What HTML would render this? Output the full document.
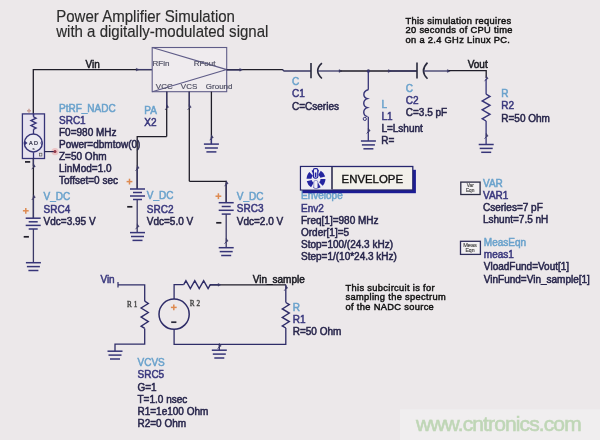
<!DOCTYPE html>
<html><head><meta charset="utf-8"><style>
html,body{margin:0;padding:0;background:#ece8ea;}
svg{display:block;font-family:"Liberation Sans",sans-serif;filter:blur(0.3px);}
</style></head><body>
<svg width="600" height="440" viewBox="0 0 600 440">
<rect x="0" y="0" width="600" height="440" fill="#ece8ea"/>
<rect x="400" y="409.3" width="200" height="30.7" fill="#f0eeef"/>
<g transform="translate(56.2,22.4) scale(0.94,1)">
<text x="0" y="0" fill="#2c2c2c" stroke="#2c2c2c" stroke-width="0.15" font-size="16" >Power Amplifier Simulation</text>
<text x="0" y="14.6" fill="#2c2c2c" stroke="#2c2c2c" stroke-width="0.15" font-size="16" >with a digitally-modulated signal</text>
</g>
<text x="405.5" y="23.5" fill="#111111" stroke="#111111" stroke-width="0.45" font-size="9.3" letter-spacing="0.32">This simulation requires</text>
<text x="405.5" y="33.25" fill="#111111" stroke="#111111" stroke-width="0.45" font-size="9.3" letter-spacing="0.32">20 seconds of CPU time</text>
<text x="405.5" y="43.0" fill="#111111" stroke="#111111" stroke-width="0.45" font-size="9.3" letter-spacing="0.32">on a 2.4 GHz Linux PC.</text>
<polyline points="33.30,113.90 33.30,69.60 152.20,69.60" fill="none" stroke="#1f1d28" stroke-width="1.3" stroke-linejoin="miter"/>
<text x="85.5" y="68" fill="#1a1a22" stroke="#1a1a22" stroke-width="0.5" font-size="10" >Vin</text>
<path d="M136.2,68.19999999999999 L139.0,69.6 L136.2,71.0 Z" fill="#3a3866" stroke="#3a3866" stroke-width="0.4"/>
<line x1="137.5" y1="69.6" x2="152.2" y2="69.6" stroke="#3a3866" stroke-width="1.3"/>
<rect x="152.2" y="47.5" width="74.5" height="44.2" fill="#efebee" stroke="#5f5c88" stroke-width="1.1"/>
<polyline points="152.20,47.50 226.70,69.60 152.20,91.70" fill="none" stroke="#5f5c88" stroke-width="1.1" stroke-linejoin="miter"/>
<text x="152.5" y="66.3" fill="#525266" stroke="#525266" stroke-width="0.2" font-size="8" >RFin</text>
<text x="193.7" y="66.3" fill="#525266" stroke="#525266" stroke-width="0.2" font-size="8" >RFout</text>
<text x="155.8" y="88.7" fill="#525266" stroke="#525266" stroke-width="0.2" font-size="8" >VCC</text>
<text x="180.8" y="88.7" fill="#525266" stroke="#525266" stroke-width="0.2" font-size="8" >VCS</text>
<text x="205.8" y="88.7" fill="#525266" stroke="#525266" stroke-width="0.2" font-size="8" >Ground</text>
<line x1="166.7" y1="91.7" x2="166.7" y2="136.6" stroke="#1f1d28" stroke-width="1.3"/>
<line x1="189.3" y1="91.7" x2="189.3" y2="181.3" stroke="#1f1d28" stroke-width="1.3"/>
<line x1="211.4" y1="91.7" x2="211.4" y2="144.1" stroke="#1f1d28" stroke-width="1.3"/>
<line x1="166.7" y1="91.7" x2="166.7" y2="106.7" stroke="#3a3866" stroke-width="1.3"/>
<line x1="189.3" y1="91.7" x2="189.3" y2="106.7" stroke="#3a3866" stroke-width="1.3"/>
<path d="M166.7,104.5 L168.6,107.3 L166.7,108.10000000000001 Z" fill="#3a3866" stroke="#3a3866" stroke-width="0.5"/>
<path d="M166.89999999999998,107.7 L165.1,109.9" stroke="#3a3866" stroke-width="0.9"/>
<path d="M189.3,104.5 L191.20000000000002,107.3 L189.3,108.10000000000001 Z" fill="#3a3866" stroke="#3a3866" stroke-width="0.5"/>
<path d="M189.5,107.7 L187.70000000000002,109.9" stroke="#3a3866" stroke-width="0.9"/>
<line x1="211.4" y1="137" x2="211.4" y2="144.1" stroke="#363478" stroke-width="1.3"/>
<path d="M211.4,134.8 L213.3,137.6 L211.4,138.4 Z" fill="#3a3866" stroke="#3a3866" stroke-width="0.5"/>
<path d="M211.6,138 L209.8,140.2" stroke="#3a3866" stroke-width="0.9"/>
<line x1="203.9" y1="144.1" x2="218.9" y2="144.1" stroke="#363478" stroke-width="1.5"/>
<line x1="204.9" y1="148.0" x2="217.9" y2="148.0" stroke="#363478" stroke-width="1.5"/>
<line x1="206.4" y1="151.9" x2="216.4" y2="151.9" stroke="#363478" stroke-width="1.5"/>
<text x="144.3" y="114.3" fill="#6aa2cc" stroke="#6aa2cc" stroke-width="0.5" font-size="10" >PA</text>
<text x="144.3" y="126.2" fill="#3a387e" stroke="#3a387e" stroke-width="0.5" font-size="10" >X2</text>
<polyline points="166.70,136.60 137.20,136.60 137.20,189.00" fill="none" stroke="#1f1d28" stroke-width="1.3" stroke-linejoin="miter"/>
<polyline points="189.30,181.30 226.20,181.30 226.20,202.70" fill="none" stroke="#1f1d28" stroke-width="1.3" stroke-linejoin="miter"/>
<line x1="226.7" y1="69.6" x2="283" y2="69.6" stroke="#1f1d28" stroke-width="1.3"/>
<line x1="226.7" y1="70" x2="241" y2="70" stroke="#3a3866" stroke-width="1.3"/>
<path d="M239.7,68.39999999999999 L242.5,69.8 L239.7,71.2 Z" fill="#3a3866" stroke="#3a3866" stroke-width="0.4"/>
<polyline points="282.50,69.60 284.00,71.00 311.00,71.00" fill="none" stroke="#3a3866" stroke-width="1.3" stroke-linejoin="miter"/>
<line x1="311" y1="63" x2="311" y2="78.2" stroke="#28283c" stroke-width="1.6"/>
<path d="M321.9,63.1 Q313.5,70.8 321.9,78.5" fill="none" stroke="#28283c" stroke-width="1.6"/>
<line x1="317.5" y1="71" x2="340" y2="71" stroke="#3a3866" stroke-width="1.3"/>
<path d="M339.0,69.6 L341.8,71 L339.0,72.4 Z" fill="#3a3866" stroke="#3a3866" stroke-width="0.4"/>
<line x1="340.3" y1="71" x2="417" y2="71" stroke="#1f1d28" stroke-width="1.3"/>
<path d="M388.3,69.6 L391.1,71 L388.3,72.4 Z" fill="#3a3866" stroke="#3a3866" stroke-width="0.4"/>
<line x1="389.6" y1="71" x2="417" y2="71" stroke="#3a3866" stroke-width="1.3"/>
<circle cx="368.4" cy="71" r="1.7" fill="#3a3866"/>
<line x1="417" y1="62.5" x2="417" y2="78.5" stroke="#28283c" stroke-width="1.6"/>
<path d="M427.5,62.6 Q419.5,70.8 427.5,78.8" fill="none" stroke="#28283c" stroke-width="1.6"/>
<line x1="423.5" y1="71" x2="448.7" y2="71" stroke="#3a3866" stroke-width="1.3"/>
<path d="M447.4,69.6 L450.2,71 L447.4,72.4 Z" fill="#3a3866" stroke="#3a3866" stroke-width="0.4"/>
<polyline points="448.70,70.60 486.20,70.60 486.20,78.00" fill="none" stroke="#1f1d28" stroke-width="1.3" stroke-linejoin="miter"/>
<path d="M486.2,75.8 L488.09999999999997,78.6 L486.2,79.4 Z" fill="#3a3866" stroke="#3a3866" stroke-width="0.5"/>
<path d="M486.4,79 L484.59999999999997,81.2" stroke="#3a3866" stroke-width="0.9"/>
<line x1="486.1" y1="79" x2="486.1" y2="94.2" stroke="#363478" stroke-width="1.3"/>
<polyline points="486.10,94.20 490.00,96.43 482.20,100.90 490.00,105.37 482.20,109.83 490.00,114.30 482.20,118.77 486.10,121.00" fill="none" stroke="#363478" stroke-width="1.4" stroke-linejoin="miter"/>
<line x1="486.1" y1="121" x2="486.1" y2="144.5" stroke="#363478" stroke-width="1.3"/>
<path d="M486.2,133.3 L488.09999999999997,136.1 L486.2,136.9 Z" fill="#3a3866" stroke="#3a3866" stroke-width="0.5"/>
<path d="M486.4,136.5 L484.59999999999997,138.7" stroke="#3a3866" stroke-width="0.9"/>
<line x1="478.7" y1="144.5" x2="493.7" y2="144.5" stroke="#363478" stroke-width="1.5"/>
<line x1="479.7" y1="148.4" x2="492.7" y2="148.4" stroke="#363478" stroke-width="1.5"/>
<line x1="481.2" y1="152.3" x2="491.2" y2="152.3" stroke="#363478" stroke-width="1.5"/>
<text x="467.7" y="68" fill="#1a1a22" stroke="#1a1a22" stroke-width="0.5" font-size="10" >Vout</text>
<text x="292" y="84.7" fill="#6aa2cc" stroke="#6aa2cc" stroke-width="0.5" font-size="10" >C</text>
<text x="292" y="97.2" fill="#3a387e" stroke="#3a387e" stroke-width="0.5" font-size="10" >C1</text>
<text x="292" y="109.6" fill="#28264c" stroke="#28264c" stroke-width="0.5" font-size="10" >C=Cseries</text>
<line x1="368.3" y1="71" x2="368.3" y2="89.7" stroke="#363478" stroke-width="1.3"/>
<path d="M368.3,89.7 C362.5,91.2 362.5,97.2 367.5,98.7 C362.5,100.2 362.5,106.2 367.5,107.7 C362.5,109.2 362.5,115.2 367.5,116.7 " fill="none" stroke="#363478" stroke-width="1.4"/>
<circle cx="364.8" cy="118.9" r="1.6" fill="none" stroke="#363478" stroke-width="1"/>
<line x1="368.3" y1="116.7" x2="368.3" y2="141" stroke="#363478" stroke-width="1.3"/>
<path d="M368.3,128.10000000000002 L370.2,130.9 L368.3,131.70000000000002 Z" fill="#3a3866" stroke="#3a3866" stroke-width="0.5"/>
<path d="M368.5,131.3 L366.7,133.5" stroke="#3a3866" stroke-width="0.9"/>
<line x1="360.9" y1="141" x2="375.9" y2="141" stroke="#363478" stroke-width="1.5"/>
<line x1="361.9" y1="144.9" x2="374.9" y2="144.9" stroke="#363478" stroke-width="1.5"/>
<line x1="363.4" y1="148.8" x2="373.4" y2="148.8" stroke="#363478" stroke-width="1.5"/>
<text x="381.4" y="108" fill="#6aa2cc" stroke="#6aa2cc" stroke-width="0.5" font-size="10" >L</text>
<text x="381.4" y="119.8" fill="#3a387e" stroke="#3a387e" stroke-width="0.5" font-size="10" >L1</text>
<text x="381.4" y="132" fill="#28264c" stroke="#28264c" stroke-width="0.5" font-size="10" >L=Lshunt</text>
<text x="381.2" y="143.6" fill="#28264c" stroke="#28264c" stroke-width="0.5" font-size="10" >R=</text>
<text x="405.8" y="91.6" fill="#6aa2cc" stroke="#6aa2cc" stroke-width="0.5" font-size="10" >C</text>
<text x="405.8" y="103.7" fill="#3a387e" stroke="#3a387e" stroke-width="0.5" font-size="10" >C2</text>
<text x="405.8" y="116" fill="#28264c" stroke="#28264c" stroke-width="0.5" font-size="10" >C=3.5 pF</text>
<text x="501.3" y="97.2" fill="#6aa2cc" stroke="#6aa2cc" stroke-width="0.5" font-size="10" >R</text>
<text x="501.3" y="109.2" fill="#3a387e" stroke="#3a387e" stroke-width="0.5" font-size="10" >R2</text>
<text x="501.3" y="121.5" fill="#28264c" stroke="#28264c" stroke-width="0.5" font-size="10" >R=50 Ohm</text>
<rect x="22.4" y="113.9" width="22.1" height="44.6" fill="#e7e3ef" stroke="#363478" stroke-width="1.3"/>
<line x1="33.5" y1="113.9" x2="33.5" y2="116" stroke="#363478" stroke-width="1.3"/>
<line x1="33.5" y1="113.9" x2="33.5" y2="116.9" stroke="#363478" stroke-width="1.3"/>
<polyline points="33.50,116.90 36.00,118.14 31.00,120.62 36.00,123.10 31.00,125.58 36.00,128.06 33.50,129.30" fill="none" stroke="#363478" stroke-width="1.4" stroke-linejoin="miter"/>
<line x1="33.5" y1="129.3" x2="33.5" y2="134" stroke="#363478" stroke-width="1.3"/>
<circle cx="33.3" cy="143" r="9" fill="#ecebf2" stroke="#363478" stroke-width="1.4"/>
<text x="33.5" y="145.2" fill="#2a2a40" stroke="#2a2a40" stroke-width="0.2" font-size="5.5" text-anchor="middle">A D</text>
<text x="33.5" y="150" fill="#2a2a40" stroke="#2a2a40" stroke-width="0.1" font-size="4" text-anchor="middle">s</text>
<path d="M25,141 L27.5,143 L25,145 Z" fill="#363478"/>
<path d="M42,141 Q39.5,143 42,145" fill="none" stroke="#363478" stroke-width="0.8"/>
<line x1="33.5" y1="152.3" x2="33.5" y2="158.5" stroke="#363478" stroke-width="1.3"/>
<circle cx="55" cy="151.6" r="3.6" fill="#ecc4c6"/>
<line x1="44.5" y1="151.6" x2="55" y2="151.6" stroke="#2a2850" stroke-width="1.2"/>
<circle cx="55" cy="151.6" r="1.5" fill="#903848"/>
<rect x="39.5" y="153.2" width="2.4" height="2.8" fill="none" stroke="#555" stroke-width="0.7"/>
<line x1="27" y1="110.8" x2="31" y2="110.8" stroke="#c8a098" stroke-width="1.5"/>
<line x1="29" y1="108.8" x2="29" y2="112.8" stroke="#c8a098" stroke-width="1.5"/>
<line x1="25.0" y1="161.9" x2="30.200000000000003" y2="161.9" stroke="#1f1d28" stroke-width="1.7"/>
<line x1="33.4" y1="158.5" x2="33.4" y2="218.2" stroke="#1f1d28" stroke-width="1.3"/>
<line x1="33.4" y1="158.5" x2="33.4" y2="166" stroke="#3a3866" stroke-width="1.3"/>
<path d="M33.4,163.8 L35.3,166.6 L33.4,167.4 Z" fill="#3a3866" stroke="#3a3866" stroke-width="0.5"/>
<path d="M33.6,167 L31.799999999999997,169.2" stroke="#3a3866" stroke-width="0.9"/>
<path d="M33.4,194.60000000000002 L35.3,197.4 L33.4,198.20000000000002 Z" fill="#3a3866" stroke="#3a3866" stroke-width="0.5"/>
<path d="M33.6,197.8 L31.799999999999997,200.0" stroke="#3a3866" stroke-width="0.9"/>
<line x1="33.4" y1="196.8" x2="33.4" y2="218.2" stroke="#3a3866" stroke-width="1.3"/>
<text x="59" y="111.6" fill="#6aa2cc" stroke="#6aa2cc" stroke-width="0.5" font-size="10" >PtRF_NADC</text>
<text x="59" y="123.6" fill="#3a387e" stroke="#3a387e" stroke-width="0.5" font-size="10" >SRC1</text>
<text x="59" y="135.7" fill="#28264c" stroke="#28264c" stroke-width="0.5" font-size="10" >F0=980 MHz</text>
<text x="59" y="147.79999999999998" fill="#28264c" stroke="#28264c" stroke-width="0.5" font-size="10" >Power=dbmtow(0)</text>
<text x="59" y="159.89999999999998" fill="#28264c" stroke="#28264c" stroke-width="0.5" font-size="10" >Z=50 Ohm</text>
<text x="59" y="172.0" fill="#28264c" stroke="#28264c" stroke-width="0.5" font-size="10" >LinMod=1.0</text>
<text x="59" y="184.1" fill="#28264c" stroke="#28264c" stroke-width="0.5" font-size="10" >Toffset=0 sec</text>
<line x1="22.900000000000002" y1="210.8" x2="28.7" y2="210.8" stroke="#de8a50" stroke-width="1.5"/>
<line x1="25.8" y1="207.9" x2="25.8" y2="213.70000000000002" stroke="#de8a50" stroke-width="1.5"/>
<line x1="25.700000000000003" y1="218.2" x2="40.7" y2="218.2" stroke="#363478" stroke-width="1.5"/>
<line x1="28.700000000000003" y1="221.79999999999998" x2="37.7" y2="221.79999999999998" stroke="#363478" stroke-width="1.5"/>
<line x1="25.700000000000003" y1="225.39999999999998" x2="40.7" y2="225.39999999999998" stroke="#363478" stroke-width="1.5"/>
<line x1="28.700000000000003" y1="229.0" x2="37.7" y2="229.0" stroke="#363478" stroke-width="1.5"/>
<line x1="33.4" y1="229" x2="33.4" y2="262.7" stroke="#3a3866" stroke-width="1.3"/>
<line x1="23.7" y1="236.8" x2="28.900000000000002" y2="236.8" stroke="#1f1d28" stroke-width="1.7"/>
<line x1="25.9" y1="262.7" x2="40.9" y2="262.7" stroke="#363478" stroke-width="1.5"/>
<line x1="26.9" y1="266.59999999999997" x2="39.9" y2="266.59999999999997" stroke="#363478" stroke-width="1.5"/>
<line x1="28.4" y1="270.5" x2="38.4" y2="270.5" stroke="#363478" stroke-width="1.5"/>
<text x="43.6" y="200" fill="#6aa2cc" stroke="#6aa2cc" stroke-width="0.5" font-size="10" >V_DC</text>
<text x="43.6" y="212.5" fill="#3a387e" stroke="#3a387e" stroke-width="0.5" font-size="10" >SRC4</text>
<text x="43.6" y="225" fill="#28264c" stroke="#28264c" stroke-width="0.5" font-size="10" >Vdc=3.95 V</text>
<path d="M137.2,165.3 L139.1,168.1 L137.2,168.9 Z" fill="#3a3866" stroke="#3a3866" stroke-width="0.5"/>
<path d="M137.39999999999998,168.5 L135.6,170.7" stroke="#3a3866" stroke-width="0.9"/>
<line x1="137.2" y1="167.5" x2="137.2" y2="189" stroke="#3a3866" stroke-width="1.3"/>
<line x1="126.6" y1="181.6" x2="132.4" y2="181.6" stroke="#de8a50" stroke-width="1.5"/>
<line x1="129.5" y1="178.7" x2="129.5" y2="184.5" stroke="#de8a50" stroke-width="1.5"/>
<line x1="130.0" y1="189" x2="145.0" y2="189" stroke="#363478" stroke-width="1.5"/>
<line x1="133.0" y1="192.5" x2="142.0" y2="192.5" stroke="#363478" stroke-width="1.5"/>
<line x1="130.0" y1="196.0" x2="145.0" y2="196.0" stroke="#363478" stroke-width="1.5"/>
<line x1="133.0" y1="199.5" x2="142.0" y2="199.5" stroke="#363478" stroke-width="1.5"/>
<line x1="137.2" y1="199.5" x2="137.2" y2="232.6" stroke="#3a3866" stroke-width="1.3"/>
<line x1="127.20000000000002" y1="206.8" x2="132.4" y2="206.8" stroke="#1f1d28" stroke-width="1.7"/>
<path d="M137.2,223.8 L139.1,226.6 L137.2,227.4 Z" fill="#3a3866" stroke="#3a3866" stroke-width="0.5"/>
<path d="M137.39999999999998,227 L135.6,229.2" stroke="#3a3866" stroke-width="0.9"/>
<line x1="130.0" y1="232.6" x2="145.0" y2="232.6" stroke="#363478" stroke-width="1.5"/>
<line x1="131.0" y1="236.5" x2="144.0" y2="236.5" stroke="#363478" stroke-width="1.5"/>
<line x1="132.5" y1="240.4" x2="142.5" y2="240.4" stroke="#363478" stroke-width="1.5"/>
<text x="146.8" y="199.4" fill="#6aa2cc" stroke="#6aa2cc" stroke-width="0.5" font-size="10" >V_DC</text>
<text x="146.8" y="212.5" fill="#3a387e" stroke="#3a387e" stroke-width="0.5" font-size="10" >SRC2</text>
<text x="146.8" y="224.5" fill="#28264c" stroke="#28264c" stroke-width="0.5" font-size="10" >Vdc=5.0 V</text>
<path d="M226.2,180.8 L228.1,183.6 L226.2,184.4 Z" fill="#3a3866" stroke="#3a3866" stroke-width="0.5"/>
<path d="M226.39999999999998,184 L224.6,186.2" stroke="#3a3866" stroke-width="0.9"/>
<line x1="226.2" y1="183" x2="226.2" y2="202.7" stroke="#3a3866" stroke-width="1.3"/>
<line x1="215.5" y1="196.2" x2="221.3" y2="196.2" stroke="#de8a50" stroke-width="1.5"/>
<line x1="218.4" y1="193.29999999999998" x2="218.4" y2="199.1" stroke="#de8a50" stroke-width="1.5"/>
<line x1="218.7" y1="202.7" x2="233.7" y2="202.7" stroke="#363478" stroke-width="1.5"/>
<line x1="221.7" y1="206.5" x2="230.7" y2="206.5" stroke="#363478" stroke-width="1.5"/>
<line x1="218.7" y1="210.29999999999998" x2="233.7" y2="210.29999999999998" stroke="#363478" stroke-width="1.5"/>
<line x1="221.7" y1="214.1" x2="230.7" y2="214.1" stroke="#363478" stroke-width="1.5"/>
<line x1="226.2" y1="214" x2="226.2" y2="247.7" stroke="#3a3866" stroke-width="1.3"/>
<line x1="216.20000000000002" y1="222.8" x2="221.4" y2="222.8" stroke="#1f1d28" stroke-width="1.7"/>
<path d="M226.2,238.3 L228.1,241.1 L226.2,241.9 Z" fill="#3a3866" stroke="#3a3866" stroke-width="0.5"/>
<path d="M226.39999999999998,241.5 L224.6,243.7" stroke="#3a3866" stroke-width="0.9"/>
<line x1="218.7" y1="247.7" x2="233.7" y2="247.7" stroke="#363478" stroke-width="1.5"/>
<line x1="219.7" y1="251.6" x2="232.7" y2="251.6" stroke="#363478" stroke-width="1.5"/>
<line x1="221.2" y1="255.5" x2="231.2" y2="255.5" stroke="#363478" stroke-width="1.5"/>
<text x="236.8" y="199.7" fill="#6aa2cc" stroke="#6aa2cc" stroke-width="0.5" font-size="10" >V_DC</text>
<text x="236.8" y="212" fill="#3a387e" stroke="#3a387e" stroke-width="0.5" font-size="10" >SRC3</text>
<text x="236.8" y="225.2" fill="#28264c" stroke="#28264c" stroke-width="0.5" font-size="10" >Vdc=2.0 V</text>
<text x="301" y="199.2" fill="#6aa2cc" stroke="#6aa2cc" stroke-width="0.5" font-size="10" >Envelope</text>
<rect x="302.5" y="169.8" width="113.4" height="23.4" fill="#1c1c94"/>
<rect x="300.5" y="166.5" width="112.3" height="23.5" fill="#f2f0ea" stroke="#26266e" stroke-width="1.3"/>
<rect x="301.3" y="167.3" width="30.5" height="22" fill="#efedf3"/>
<line x1="332" y1="167" x2="332" y2="189.5" stroke="#3a3a5a" stroke-width="1.7"/>
<text x="341.6" y="182.8" fill="#111111" stroke="#111111" stroke-width="0.35" font-size="11.4" >ENVELOPE</text>
<g>
<circle cx="316" cy="179" r="7" fill="none" stroke="#2424a0" stroke-width="5" stroke-dasharray="5.5 1.83" transform="rotate(-60 316 179)"/>
<rect x="313.4" y="168.6" width="4.4" height="9.5" rx="1.5" fill="#f0eef6" stroke="#2424a0" stroke-width="1.2"/>
<rect x="314.8" y="172.5" width="1.6" height="4.5" fill="#2424a0"/>
<rect x="313.8" y="180.5" width="4" height="8" rx="1.5" fill="#f0eef6" stroke="#5a5ab0" stroke-width="0.6"/>
</g>
<text x="301" y="211.5" fill="#3a387e" stroke="#3a387e" stroke-width="0.5" font-size="10" >Env2</text>
<text x="301" y="223.7" fill="#28264c" stroke="#28264c" stroke-width="0.5" font-size="10" >Freq[1]=980 MHz</text>
<text x="301" y="235.9" fill="#28264c" stroke="#28264c" stroke-width="0.5" font-size="10" >Order[1]=5</text>
<text x="301" y="248.1" fill="#28264c" stroke="#28264c" stroke-width="0.5" font-size="10" >Stop=100/(24.3 kHz)</text>
<text x="301" y="260.3" fill="#28264c" stroke="#28264c" stroke-width="0.5" font-size="10" >Step=1/(10*24.3 kHz)</text>
<rect x="460.8" y="182.1" width="19.3" height="12.4" fill="#f3f1f3" stroke="#2a2a44" stroke-width="1.3"/>
<text x="470.2" y="187.3" fill="#444" stroke="#444" stroke-width="0.15" font-size="4.8" text-anchor="middle">Var</text>
<text x="470.2" y="192.3" fill="#444" stroke="#444" stroke-width="0.15" font-size="4.8" text-anchor="middle">Eqn</text>
<text x="483" y="186.9" fill="#6aa2cc" stroke="#6aa2cc" stroke-width="0.5" font-size="10" >VAR</text>
<text x="483" y="198.6" fill="#3a387e" stroke="#3a387e" stroke-width="0.5" font-size="10" >VAR1</text>
<text x="483" y="211.2" fill="#28264c" stroke="#28264c" stroke-width="0.5" font-size="10" >Cseries=7 pF</text>
<text x="483" y="223" fill="#28264c" stroke="#28264c" stroke-width="0.5" font-size="10" >Lshunt=7.5 nH</text>
<rect x="460.5" y="241.3" width="19.9" height="13.1" fill="#f3f1f3" stroke="#2e2c5a" stroke-width="1.3"/>
<text x="470" y="247.2" fill="#444" stroke="#444" stroke-width="0.15" font-size="5.6" text-anchor="middle">Meas</text>
<text x="470" y="252.2" fill="#444" stroke="#444" stroke-width="0.15" font-size="5.2" text-anchor="middle">Eqn</text>
<text x="483.8" y="245.5" fill="#6aa2cc" stroke="#6aa2cc" stroke-width="0.5" font-size="10" >MeasEqn</text>
<text x="483.8" y="257.5" fill="#3a387e" stroke="#3a387e" stroke-width="0.5" font-size="10" >meas1</text>
<text x="483.8" y="270" fill="#28264c" stroke="#28264c" stroke-width="0.5" font-size="10" >VloadFund=Vout[1]</text>
<text x="483.8" y="282.5" fill="#28264c" stroke="#28264c" stroke-width="0.5" font-size="10" >VinFund=Vin_sample[1]</text>
<text x="100.4" y="283" fill="#3a387e" stroke="#3a387e" stroke-width="0.5" font-size="10" >Vin</text>
<polyline points="118.00,284.80 144.70,284.80 144.70,301.20" fill="none" stroke="#2e2c68" stroke-width="1.3" stroke-linejoin="miter"/>
<line x1="118" y1="282" x2="118" y2="287.5" stroke="#2e2c68" stroke-width="1.2"/>
<polyline points="144.70,301.20 148.30,303.47 141.10,308.00 148.30,312.53 141.10,317.07 148.30,321.60 141.10,326.13 144.70,328.40" fill="none" stroke="#2e2c68" stroke-width="1.4" stroke-linejoin="miter"/>
<polyline points="144.70,328.40 144.70,344.20 115.00,344.20 115.00,351.20" fill="none" stroke="#2e2c68" stroke-width="1.3" stroke-linejoin="miter"/>
<line x1="107.5" y1="351.2" x2="122.5" y2="351.2" stroke="#363478" stroke-width="1.5"/>
<line x1="108.5" y1="355.09999999999997" x2="121.5" y2="355.09999999999997" stroke="#363478" stroke-width="1.5"/>
<line x1="110" y1="359.0" x2="120" y2="359.0" stroke="#363478" stroke-width="1.5"/>
<text x="127" y="306.5" fill="#444" stroke="#444" stroke-width="0.35" font-size="7.2" font-family="Liberation Serif" letter-spacing="2">R1</text>
<circle cx="174.1" cy="314.2" r="15.1" fill="none" stroke="#2e2c68" stroke-width="1.5"/>
<line x1="170.9" y1="307.4" x2="176.70000000000002" y2="307.4" stroke="#de8a50" stroke-width="1.5"/>
<line x1="173.8" y1="304.5" x2="173.8" y2="310.29999999999995" stroke="#de8a50" stroke-width="1.5"/>
<line x1="171.20000000000002" y1="322.2" x2="176.4" y2="322.2" stroke="#2a2a3a" stroke-width="1.7"/>
<polyline points="174.10,299.10 174.10,284.60 183.70,284.60" fill="none" stroke="#2e2c68" stroke-width="1.3" stroke-linejoin="miter"/>
<polyline points="183.70,284.60 185.92,280.70 190.35,288.50 194.78,280.70 199.22,288.50 203.65,280.70 208.08,288.50 210.30,284.60" fill="none" stroke="#2e2c68" stroke-width="1.4" stroke-linejoin="miter"/>
<line x1="209.9" y1="284.8" x2="286" y2="284.8" stroke="#1f1d28" stroke-width="1.3"/>
<line x1="209.9" y1="284.8" x2="219.3" y2="284.8" stroke="#2e2c68" stroke-width="1.3"/>
<path d="M218.0,283.40000000000003 L220.8,284.8 L218.0,286.2 Z" fill="#3a3866" stroke="#3a3866" stroke-width="0.4"/>
<text x="189.8" y="306.2" fill="#444" stroke="#444" stroke-width="0.35" font-size="7.2" font-family="Liberation Serif" letter-spacing="2">R2</text>
<polyline points="174.10,329.30 174.10,344.30 285.80,344.30 285.80,328.00" fill="none" stroke="#2e2c68" stroke-width="1.3" stroke-linejoin="miter"/>
<line x1="285.8" y1="284.8" x2="285.8" y2="302.5" stroke="#2e2c68" stroke-width="1.3"/>
<path d="M285.8,285.3 L287.7,288.1 L285.8,288.9 Z" fill="#3a3866" stroke="#3a3866" stroke-width="0.5"/>
<path d="M286.0,288.5 L284.2,290.7" stroke="#3a3866" stroke-width="0.9"/>
<polyline points="285.80,302.50 289.30,304.62 282.30,308.88 289.30,313.12 282.30,317.38 289.30,321.62 282.30,325.88 285.80,328.00" fill="none" stroke="#2e2c68" stroke-width="1.4" stroke-linejoin="miter"/>
<line x1="219.3" y1="344.3" x2="219.3" y2="350.2" stroke="#2e2c68" stroke-width="1.3"/>
<path d="M219.3,343.3 L221.20000000000002,346.1 L219.3,346.9 Z" fill="#3a3866" stroke="#3a3866" stroke-width="0.5"/>
<path d="M219.5,346.5 L217.70000000000002,348.7" stroke="#3a3866" stroke-width="0.9"/>
<line x1="211.8" y1="350.2" x2="226.8" y2="350.2" stroke="#363478" stroke-width="1.5"/>
<line x1="212.8" y1="354.09999999999997" x2="225.8" y2="354.09999999999997" stroke="#363478" stroke-width="1.5"/>
<line x1="214.3" y1="358.0" x2="224.3" y2="358.0" stroke="#363478" stroke-width="1.5"/>
<text x="252.7" y="283.2" fill="#1a1a22" stroke="#1a1a22" stroke-width="0.5" font-size="10" >Vin_sample</text>
<text x="292.7" y="311" fill="#6aa2cc" stroke="#6aa2cc" stroke-width="0.5" font-size="10" >R</text>
<text x="292.7" y="323" fill="#3a387e" stroke="#3a387e" stroke-width="0.5" font-size="10" >R1</text>
<text x="292.7" y="335" fill="#28264c" stroke="#28264c" stroke-width="0.5" font-size="10" >R=50 Ohm</text>
<text x="345.5" y="290.5" fill="#111111" stroke="#111111" stroke-width="0.45" font-size="9.3" letter-spacing="0.33">This subcircuit is for</text>
<text x="345.5" y="300.25" fill="#111111" stroke="#111111" stroke-width="0.45" font-size="9.3" letter-spacing="0.33">sampling the spectrum</text>
<text x="345.5" y="310.0" fill="#111111" stroke="#111111" stroke-width="0.45" font-size="9.3" letter-spacing="0.33">of the NADC source</text>
<text x="137.5" y="365.8" fill="#6aa2cc" stroke="#6aa2cc" stroke-width="0.5" font-size="10" >VCVS</text>
<text x="137.5" y="378.4" fill="#3a387e" stroke="#3a387e" stroke-width="0.5" font-size="10" >SRC5</text>
<text x="137.5" y="390.5" fill="#28264c" stroke="#28264c" stroke-width="0.5" font-size="10" >G=1</text>
<text x="137.5" y="402.59999999999997" fill="#28264c" stroke="#28264c" stroke-width="0.5" font-size="10" >T=1.0 nsec</text>
<text x="137.5" y="414.7" fill="#28264c" stroke="#28264c" stroke-width="0.5" font-size="10" >R1=1e100 Ohm</text>
<text x="137.5" y="426.79999999999995" fill="#28264c" stroke="#28264c" stroke-width="0.5" font-size="10" >R2=0 Ohm</text>
<text x="416" y="430.6" fill="#bfd6b6" stroke="#bfd6b6" stroke-width="0.6" font-size="21" letter-spacing="-0.88">www.cntronics.com</text>
</svg>
</body></html>
